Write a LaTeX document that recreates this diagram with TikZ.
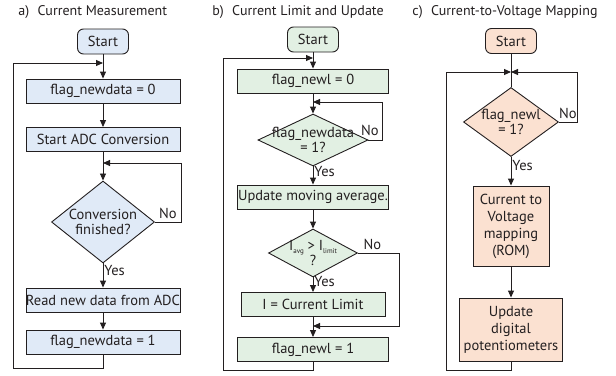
\documentclass[tikz,border=0pt]{standalone}
\usepackage{fontspec}
\setmainfont{PT Sans}
\usepackage{tikz}
\usetikzlibrary{calc, arrows.meta, shapes.geometric}
\definecolor{fillA}{RGB}{224,234,247}
\definecolor{fillB}{RGB}{226,240,227}
\definecolor{fillC}{RGB}{251,225,209}
\definecolor{inkCol}{RGB}{35,31,32}
\newcommand{\subTag}[1]{\raisebox{-3pt}{\fontsize{7}{7}\selectfont#1}}

\begin{document}
\begin{tikzpicture}[x=1pt, y=-1pt, inkCol, line width=0.9pt,
  font=\fontsize{14.5}{17}\selectfont,
  box/.style={draw, rectangle, minimum height=24, inner sep=0pt, align=center},
  startbox/.style={draw, rounded corners=6pt, minimum width=51, minimum height=25, inner sep=0pt},
  cond/.style={draw, diamond, inner sep=0pt},
  condtext/.style={align=center, font=\fontsize{14.5}{15.5}\selectfont},
  arr/.style={-{Triangle[length=7pt, width=6pt]}},
  tag/.style={inner sep=1pt},
  title/.style={anchor=west, inner sep=0pt, font=\fontsize{14}{16}\selectfont}]
  \useasboundingbox (0,0) rectangle (616,375);

  % a) current measurement
  \node[title] (titleA) at (18,12) {a)\hspace{0.6em}Current Measurement};
  \node[startbox, fill=fillA] (startA) at (103,41.5) {Start};
  \node[box, fill=fillA, minimum width=154] (zeroA) at (103,91) {flag\_newdata = 0};
  \node[box, fill=fillA, minimum width=154] (adcA) at (103,139.5) {Start ADC Conversion};
  \node[cond, fill=fillA, minimum width=103, minimum height=82,
        label={[condtext]center:Conversion\\finished?}] (doneA) at (103,222) {};
  \node[box, fill=fillA, minimum width=154] (readA) at (103,300) {Read new data from ADC};
  \node[box, fill=fillA, minimum width=154] (oneA) at (103,342) {flag\_newdata = 1};
  \coordinate (joinA) at (103,63);
  \coordinate (waitA) at (103,163);
  \draw[arr] (startA) -- (zeroA);
  \draw[arr] (zeroA) -- (adcA);
  \draw[arr] (adcA) -- (doneA);
  \draw[arr] (doneA) -- node[tag, right, pos=0.3] {Yes} (readA);
  \draw[arr] (readA) -- (oneA);
  \draw[arr] (doneA.east) -- node[tag, above=2pt] {No} ++(26,0) |- (waitA);
  \draw[arr] (oneA.south) |- (13,368) |- (joinA);

  % b) current limit and update
  \node[title] (titleB) at (212,12) {b)\hspace{0.6em}Current Limit and Update};
  \node[startbox, fill=fillB] (startB) at (313,39.5) {Start};
  \node[box, fill=fillB, minimum width=151] (zeroB) at (313,81) {flag\_newl = 0};
  \node[cond, fill=fillB, minimum width=110, minimum height=52,
        label={[condtext]center:flag\_newdata\\= 1?}] (testB) at (313,140) {};
  \node[box, fill=fillB, minimum width=151] (avgB) at (313,197) {Update moving average.};
  \node[cond, fill=fillB, minimum width=89, minimum height=48,
        label={[condtext]center:I\subTag{avg} > I\subTag{limit}\\?}] (limitB) at (313,253) {};
  \node[box, fill=fillB, minimum width=144] (curB) at (313,304.5) {I = Current Limit};
  \node[box, fill=fillB, minimum width=151] (oneB) at (313,349.5) {flag\_newl = 1};
  \coordinate (joinB) at (313,58);
  \coordinate (waitB) at (313,102);
  \coordinate (mergeB) at (313,326);
  \draw[arr] (startB) -- (zeroB);
  \draw[arr] (zeroB) -- (testB);
  \draw[arr] (testB) -- node[tag, right, pos=0.3] {Yes} (avgB);
  \draw[arr] (avgB) -- (limitB);
  \draw[arr] (limitB) -- node[tag, right, pos=0.3] {Yes} (curB);
  \draw[arr] (curB) -- (oneB);
  \draw[arr] (testB.east) -- node[tag, above=3pt, pos=0.1] {No} ++(14,0) |- (waitB);
  \draw[arr] (limitB.east) -- node[tag, above=2pt, pos=0.35] {No} ++(41,0) |- (mergeB);
  \draw[arr] (oneB.south) |- (223,370) |- (joinB);

  % c) current-to-voltage mapping
  \node[title] (titleC) at (412,12) {c)\hspace{0.6em}Current-to-Voltage Mapping};
  \node[startbox, fill=fillC] (startC) at (511,41) {Start};
  \node[cond, fill=fillC, minimum width=95, minimum height=69,
        label={[condtext]center:flag\_newl\\= 1?}] (testC) at (511,122) {};
  \node[box, fill=fillC, minimum width=76, minimum height=80] (mapC) at (511,226)
        {Current to\\Voltage\\mapping\\(ROM)};
  \node[box, fill=fillC, minimum width=103, minimum height=63] (updC) at (511,329.5)
        {Update\\digital\\potentiometers};
  \coordinate (joinC) at (511,72);
  \draw (startC) -- (testC);
  \draw[arr] (testC) -- node[tag, right, pos=0.3] {Yes} (mapC);
  \draw[arr] (mapC) -- (updC);
  \draw[arr] (testC.east) -- node[tag, above=2pt] {No} ++(18,0) |- (joinC);
  \draw[arr] (updC.south) |- (446,370) |- (joinC);
\end{tikzpicture}
\end{document}
